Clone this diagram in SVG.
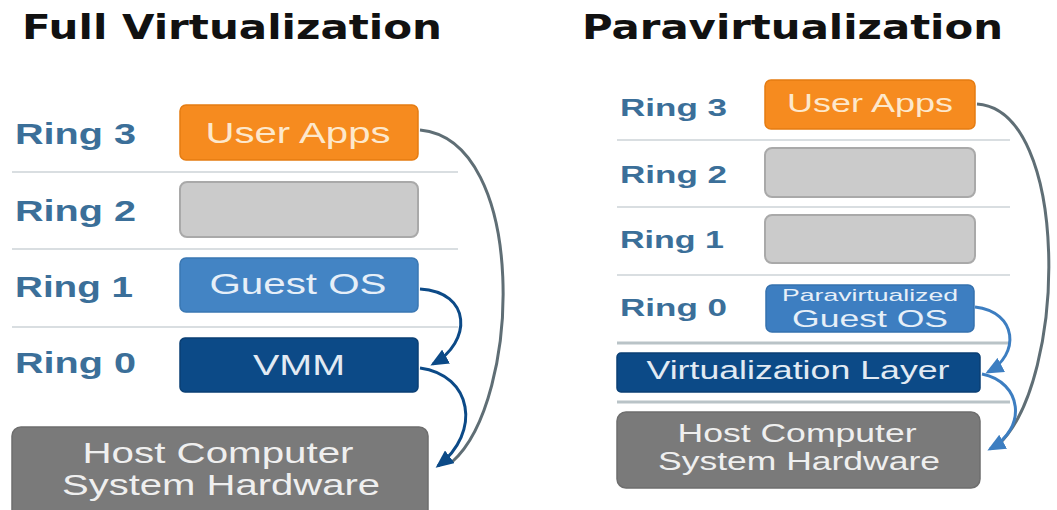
<svg xmlns="http://www.w3.org/2000/svg" width="1057" height="510" viewBox="0 0 1057 510">
<defs>
<style>
.title{font-family:"DejaVu Sans","Liberation Sans",sans-serif;font-weight:bold;font-size:34px;fill:#111}
.ring{font-family:"Liberation Sans",Arial,sans-serif;font-weight:bold;fill:#3B6F99}
.bt{font-family:"Liberation Sans",Arial,sans-serif;text-anchor:middle}
.div{stroke:#D9DEE1;stroke-width:2}
.divd{stroke:#B9C3C7;stroke-width:3}
.gray{fill:#CBCBCB;stroke:#A9A9A9;stroke-width:2}
.conn{fill:none;stroke-width:3}
</style>
<marker id="mNavy" markerUnits="userSpaceOnUse" markerWidth="18" markerHeight="16" refX="15" refY="8" orient="auto" viewBox="0 0 18 16">
<path d="M0,0 L18,8 L0,16 z" fill="#0C4A87"/>
</marker>
<marker id="mBlue" markerUnits="userSpaceOnUse" markerWidth="18" markerHeight="16" refX="15" refY="8" orient="auto" viewBox="0 0 18 16">
<path d="M0,0 L18,8 L0,16 z" fill="#3D7EC1"/>
</marker>
</defs>
<rect width="1057" height="510" fill="#ffffff"/>

<g id="titles">
<text class="title" x="22" y="39" textLength="420" lengthAdjust="spacingAndGlyphs">Full Virtualization</text>
<text class="title" x="582" y="39" textLength="421" lengthAdjust="spacingAndGlyphs">Paravirtualization</text>
</g>

<g id="left-dividers">
<line class="div" x1="12" y1="172" x2="458" y2="172"/>
<line class="div" x1="12" y1="249" x2="458" y2="249"/>
<line class="div" x1="12" y1="327" x2="458" y2="327"/>
</g>

<g id="left-rings">
<text class="ring" x="15" y="144" font-size="29" textLength="121" lengthAdjust="spacingAndGlyphs">Ring 3</text>
<text class="ring" x="15" y="221" font-size="29" textLength="121" lengthAdjust="spacingAndGlyphs">Ring 2</text>
<text class="ring" x="15" y="297" font-size="29" textLength="118" lengthAdjust="spacingAndGlyphs">Ring 1</text>
<text class="ring" x="15" y="373" font-size="29" textLength="121" lengthAdjust="spacingAndGlyphs">Ring 0</text>
</g>

<g id="left-user-apps">
<rect x="180" y="105" width="238" height="55" rx="6" fill="#F68B1F" stroke="#E57C12" stroke-width="1.5"/>
<text class="bt" x="298" y="143" font-size="29" fill="#FDE8CC" textLength="185" lengthAdjust="spacingAndGlyphs">User Apps</text>
</g>
<g id="left-ring2-box">
<rect class="gray" x="180" y="182" width="238" height="55" rx="7"/>
</g>
<g id="left-guest-os">
<rect x="180" y="258" width="238" height="54" rx="6" fill="#4384C4" stroke="#3A77B2" stroke-width="1.5"/>
<text class="bt" x="298" y="294" font-size="29" fill="#E6EFF8" textLength="177" lengthAdjust="spacingAndGlyphs">Guest OS</text>
</g>
<g id="left-vmm">
<rect x="180" y="338" width="238" height="54" rx="5" fill="#0C4A87" stroke="#0A3F74" stroke-width="1.5"/>
<text class="bt" x="299" y="375" font-size="29" fill="#E2EAF3" textLength="92" lengthAdjust="spacingAndGlyphs">VMM</text>
</g>
<g id="left-host">
<rect x="12" y="427" width="416" height="95" rx="9" fill="#7A7A7A" stroke="#6E6E6E" stroke-width="1.5"/>
<text class="bt" x="218" y="463" font-size="29" fill="#EFEFEF" textLength="271" lengthAdjust="spacingAndGlyphs">Host Computer</text>
<text class="bt" x="221" y="495" font-size="29" fill="#EFEFEF" textLength="318" lengthAdjust="spacingAndGlyphs">System Hardware</text>
</g>

<g id="right-dividers">
<line class="div" x1="617" y1="140" x2="1010" y2="140"/>
<line class="div" x1="617" y1="207" x2="1010" y2="207"/>
<line class="div" x1="617" y1="275" x2="1010" y2="275"/>
<line class="divd" x1="617" y1="343" x2="1010" y2="343"/>
<line class="divd" x1="617" y1="402" x2="1010" y2="402"/>
</g>

<g id="right-rings">
<text class="ring" x="620" y="116" font-size="24" textLength="107" lengthAdjust="spacingAndGlyphs">Ring 3</text>
<text class="ring" x="620" y="183" font-size="24" textLength="107" lengthAdjust="spacingAndGlyphs">Ring 2</text>
<text class="ring" x="620" y="248" font-size="24" textLength="104" lengthAdjust="spacingAndGlyphs">Ring 1</text>
<text class="ring" x="620" y="316" font-size="24" textLength="107" lengthAdjust="spacingAndGlyphs">Ring 0</text>
</g>

<g id="right-user-apps">
<rect x="765" y="80" width="210" height="49" rx="6" fill="#F68B1F" stroke="#E57C12" stroke-width="1.5"/>
<text class="bt" x="870" y="112" font-size="26" fill="#FDE8CC" textLength="166" lengthAdjust="spacingAndGlyphs">User Apps</text>
</g>
<g id="right-ring2-box">
<rect class="gray" x="765" y="148" width="210" height="49" rx="7"/>
</g>
<g id="right-ring1-box">
<rect class="gray" x="765" y="215" width="210" height="48" rx="7"/>
</g>
<g id="right-pv-guest-os">
<rect x="766" y="285" width="208" height="47" rx="6" fill="#3D7EC1" stroke="#3571AE" stroke-width="1.5"/>
<text class="bt" x="870" y="301" font-size="17" fill="#E6EFF8" textLength="176" lengthAdjust="spacingAndGlyphs">Paravirtualized</text>
<text class="bt" x="870" y="327" font-size="24" fill="#E6EFF8" textLength="156" lengthAdjust="spacingAndGlyphs">Guest OS</text>
</g>
<g id="right-virt-layer">
<rect x="617" y="353" width="363" height="39" rx="4" fill="#0C4A87" stroke="#0A3F74" stroke-width="1.5"/>
<text class="bt" x="798" y="379" font-size="26" fill="#E2EAF3" textLength="303" lengthAdjust="spacingAndGlyphs">Virtualization Layer</text>
</g>
<g id="right-host">
<rect x="617" y="412" width="363" height="76" rx="9" fill="#7A7A7A" stroke="#6E6E6E" stroke-width="1.5"/>
<text class="bt" x="797" y="442" font-size="26" fill="#EFEFEF" textLength="239" lengthAdjust="spacingAndGlyphs">Host Computer</text>
<text class="bt" x="799" y="470" font-size="26" fill="#EFEFEF" textLength="282" lengthAdjust="spacingAndGlyphs">System Hardware</text>
</g>

<g id="connectors">
<path class="conn" d="M420,130 C 528,140 522,400 452,462" stroke="#5F6E75" stroke-width="2.5"/>
<path class="conn" d="M420,289 C 472,292 472,342 433,364" stroke="#0C4A87" marker-end="url(#mNavy)"/>
<path class="conn" d="M420,368 C 472,375 482,432 438,466" stroke="#0C4A87" marker-end="url(#mNavy)"/>
<path class="conn" d="M977,104 C 1070,110 1068,380 998,445" stroke="#5F6E75" stroke-width="2.5"/>
<path class="conn" d="M975,307 C 1018,312 1020,355 988,372" stroke="#3D7EC1" marker-end="url(#mBlue)"/>
<path class="conn" d="M982,374 C 1022,382 1028,428 990,449" stroke="#3D7EC1" marker-end="url(#mBlue)"/>
</g>
</svg>
